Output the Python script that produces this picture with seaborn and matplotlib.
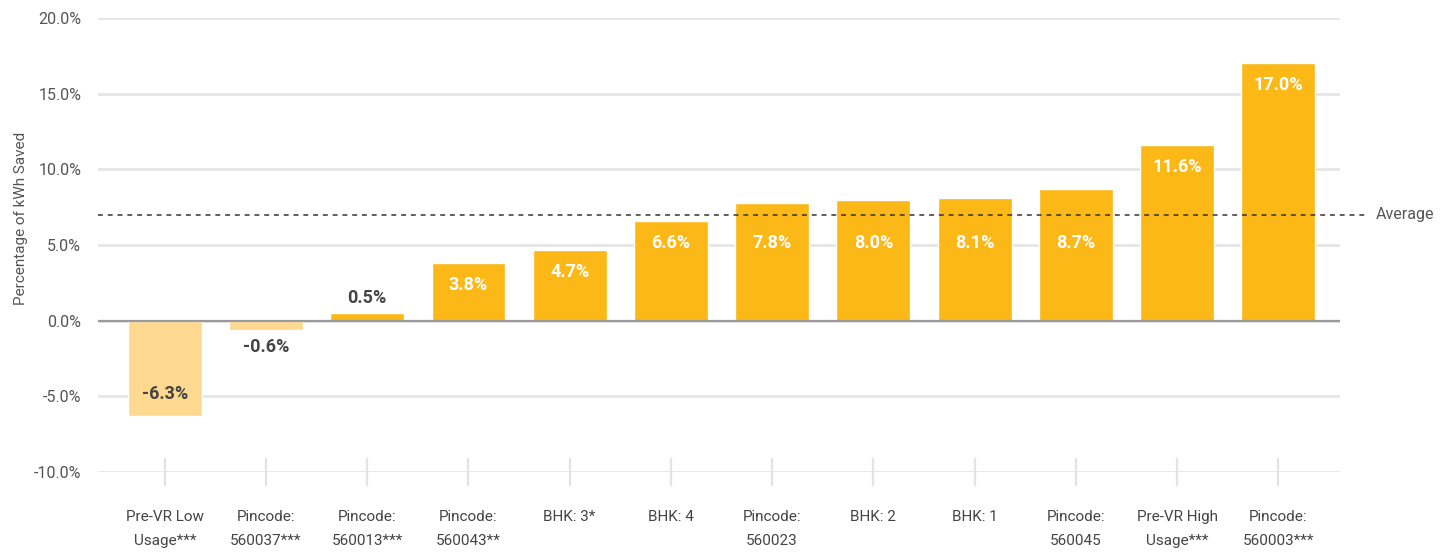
import matplotlib
matplotlib.use("Agg")
import matplotlib.pyplot as plt
import seaborn as sns
import pandas as pd

categories = [
    "Pre-VR Low\nUsage***", "Pincode:\n560037***", "Pincode:\n560013***",
    "Pincode:\n560043**", "BHK: 3*", "BHK: 4", "Pincode:\n560023",
    "BHK: 2", "BHK: 1", "Pincode:\n560045", "Pre-VR High\nUsage***",
    "Pincode:\n560003***",
]
values = [-6.3, -0.6, 0.5, 3.8, 4.7, 6.6, 7.8, 8.0, 8.1, 8.7, 11.6, 17.0]
average = 7.0
y_ticks = [-10, -5, 0, 5, 10, 15, 20]

LIGHT = "#FED98F"
BRIGHT = "#FBB817"
bar_colors = [LIGHT if v < 0 else BRIGHT for v in values]

sns.set_theme(style="white")
plt.rcParams["font.family"] = ["Roboto", "DejaVu Sans"]

fig = plt.figure(figsize=(14.49, 5.52), dpi=100)
ax = fig.add_axes([0.0676, 0.1449, 0.8572, 0.8225])

df = pd.DataFrame({"cat": categories, "val": values})
sns.barplot(data=df, x="cat", y="val", hue="cat", palette=bar_colors,
            legend=False, width=0.73, saturation=1, ax=ax, zorder=3)

ax.set_ylim(-10, 20)
ax.set_xlim(-0.66, 11.61)
ax.set_yticks(y_ticks)
ax.set_yticklabels([f"{t:.1f}%" for t in y_ticks])
ax.grid(axis="y", color="#e6e6e6", linewidth=2, zorder=0)
ax.grid(axis="x", visible=False)
for s in ax.spines.values():
    s.set_visible(False)

ax.tick_params(axis="y", length=0, pad=12, labelsize=11.5, labelcolor="#555555")
ax.tick_params(axis="x", bottom=True, direction="inout", length=20, width=1.6,
               color="#e3e3e3", labelbottom=False)

# category names under each tick, two-line labels with open spacing
for i, name in enumerate(categories):
    ax.annotate(name, xy=(i, 0), xycoords=("data", "axes fraction"),
                xytext=(0, -38), textcoords="offset pixels",
                ha="center", va="top", fontsize=11, color="#444444",
                linespacing=1.95, annotation_clip=False)

ax.set_xlabel("")
ax.set_ylabel("Percentage of kWh Saved", fontsize=11, color="#555555")
ax.yaxis.set_label_coords(-0.0565, 0.559)

# zero baseline
ax.axhline(0, color="#9a9a9a", linewidth=1.6, zorder=4)

# average reference line, running past the plot into its label
ax.axhline(average, xmin=0, xmax=1.021, color="#333333", linewidth=1.1,
           dashes=(3.2, 3.2), clip_on=False, zorder=5)
ax.annotate("Average", xy=(1.029, average), xycoords=("axes fraction", "data"),
            va="center", ha="left", fontsize=11.5, color="#555555",
            annotation_clip=False)

# value labels; labels that would sit on the average line drop below it
px_per_unit = (0.8225 * 552) / 30.0
for i, v in enumerate(values):
    txt = f"{v:.1f}%"
    color = "#444444"
    if v >= 1:
        y = v - 22 / px_per_unit
        if abs(y - average) < 1.8:
            y = average - 1.85
        color = "white"
    elif v >= 0:
        y = v + 15 / px_per_unit
    elif v > -2:
        y = v - 17 / px_per_unit
    else:
        y = v + 22 / px_per_unit
    ax.text(i, y, txt, ha="center", va="center", fontsize=13,
            fontweight="bold", color=color, zorder=6)

fig.savefig("out.png", dpi=100, facecolor="white")
